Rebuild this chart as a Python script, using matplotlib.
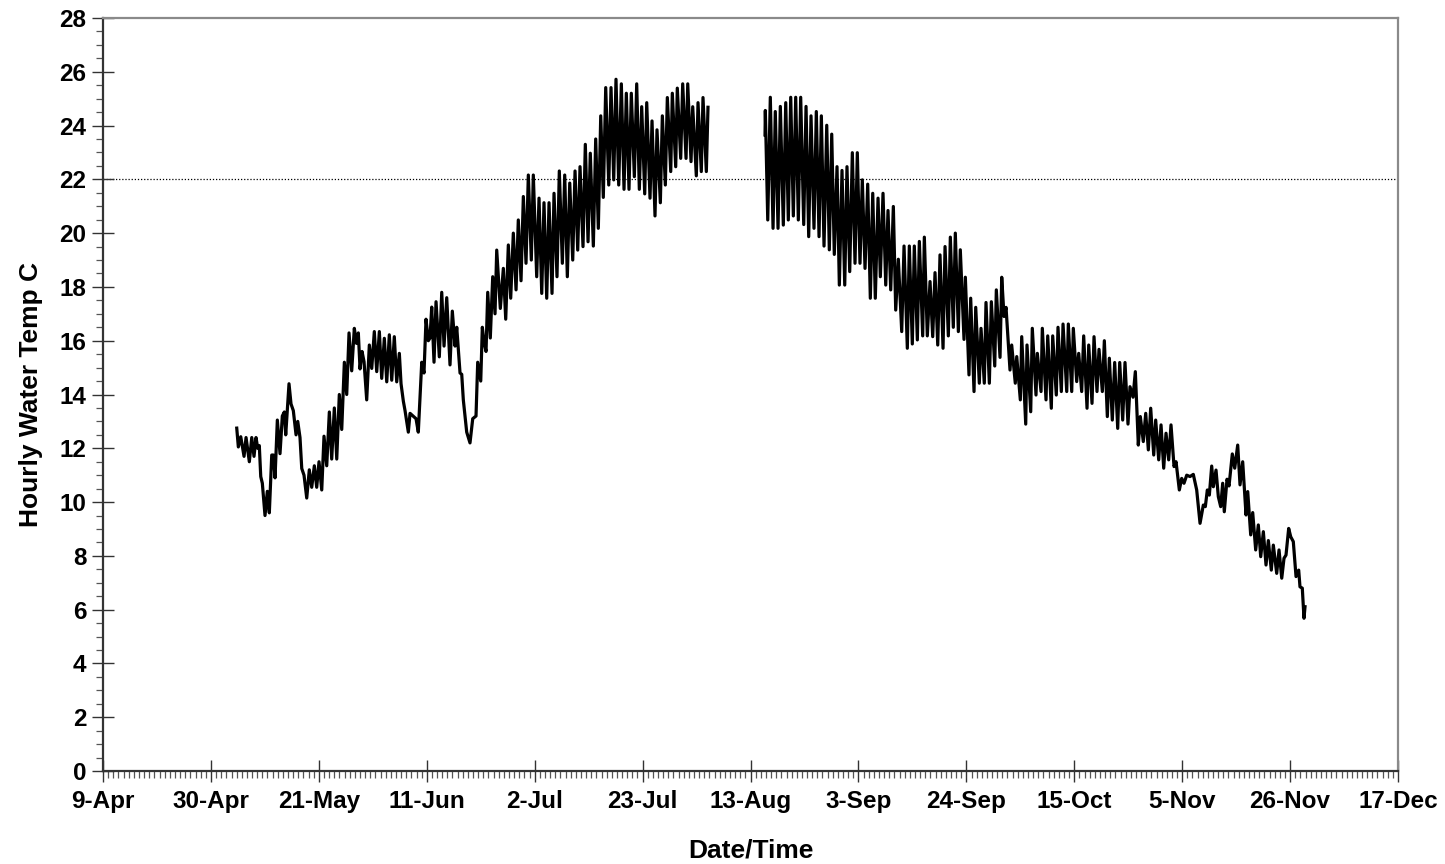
import numpy as np
import matplotlib
matplotlib.use("Agg")
import matplotlib.pyplot as plt
import matplotlib.dates as mdates
from matplotlib.ticker import FixedLocator, MultipleLocator, FuncFormatter

plt.rcParams["font.family"] = ["Liberation Sans", "DejaVu Sans"]
plt.rcParams["font.weight"] = "bold"

# ---- data: logger record, days after 9-Apr and water temperature (deg C) ----
season_start = "2003-04-09"
season_days = 252          # 9-Apr .. 17-Dec
tick_step_days = 21
threshold_temp = 22.0

spring_days = [
    26.02, 26.33, 26.80, 27.44, 27.83, 28.47, 28.94, 29.38, 29.77, 30.10,
    30.41, 30.69, 31.00, 31.52, 31.97, 32.36, 32.83, 33.14, 33.47, 33.92,
    34.44, 34.89, 35.28, 35.55, 36.19, 36.58, 37.03, 37.56, 37.89, 38.33,
    38.67, 39.11, 39.64, 40.14, 40.61, 41.12, 41.58, 42.03, 42.56, 43.00,
    43.53, 44.04, 44.50, 45.01, 45.48, 45.98, 46.45, 46.96, 47.42, 47.87,
    48.39, 48.90, 49.33, 49.68, 50.01, 50.40, 50.79, 51.31, 51.82, 52.29,
    52.79, 53.26, 53.77, 54.23, 54.74, 55.21, 55.71, 56.18, 56.68, 57.15,
    57.66, 57.99, 58.44, 58.77, 59.41, 59.74, 60.32, 60.91, 61.35, 62.02,
    62.46, 62.85, 63.30, 63.63, 63.96, 64.41, 64.80, 65.44, 65.91, 66.36,
    66.88, 67.52, 67.97, 68.50, 68.83, 69.47, 69.80, 70.11, 70.77, 71.41,
    71.94, 72.58, 72.91, 73.50, 73.81, 74.14, 74.53, 74.86, 75.36, 75.83,
    76.28, 76.61, 77.31, 77.90, 78.36, 78.87, 79.33, 79.84, 80.37, 80.81,
    81.34, 81.79, 82.31, 82.76, 83.34, 83.73, 84.39, 84.84, 85.37, 85.81,
    86.34, 86.79, 87.37, 87.76, 88.34, 88.79, 89.38, 89.84, 90.35, 90.82,
    91.40, 91.85, 92.37, 92.82, 93.40, 93.85, 94.38, 94.82, 95.41, 95.87,
    96.38, 96.85, 97.35, 97.82, 98.41, 98.85, 99.38, 99.82, 100.35, 100.86,
    101.38, 101.83, 102.35, 102.80, 103.39, 103.85, 104.36, 104.82, 105.41, 105.80,
    106.44, 106.83, 107.41, 107.80, 108.45, 108.84, 109.42, 109.81, 110.47, 110.78,
    111.44, 111.75, 112.41, 112.80, 113.45, 113.78, 114.42, 114.75, 115.45, 115.78,
    116.42, 116.75, 117.40, 117.72,
]
spring_temp = [
    12.75, 12.05, 12.43, 11.70, 12.40, 11.50, 12.40, 11.70, 12.40, 12.00,
    12.10, 10.95, 10.70, 9.50, 10.40, 9.60, 11.75, 11.75, 10.90, 13.05,
    11.80, 13.20, 13.35, 12.50, 14.40, 13.65, 13.40, 12.50, 13.00, 12.40,
    11.25, 11.00, 10.15, 11.20, 10.55, 11.35, 10.55, 11.50, 10.45, 12.45,
    11.35, 13.35, 11.60, 13.50, 11.60, 14.00, 12.70, 15.20, 14.00, 16.29,
    14.88, 16.46, 15.90, 16.29, 14.95, 15.60, 15.22, 13.80, 15.84, 14.97,
    16.34, 14.85, 16.34, 14.60, 16.09, 14.47, 16.22, 14.53, 16.15, 14.47,
    15.53, 14.40, 13.75, 13.40, 12.60, 13.30, 13.20, 13.10, 12.60, 15.20,
    14.80, 16.80, 16.00, 16.10, 17.25, 15.20, 17.45, 15.40, 17.80, 15.80,
    17.60, 15.10, 17.10, 15.80, 16.50, 14.80, 14.75, 13.80, 12.60, 12.20,
    13.10, 13.20, 15.20, 14.50, 16.50, 15.95, 15.60, 17.80, 16.10, 18.38,
    17.00, 19.37, 17.20, 18.69, 16.80, 19.56, 17.58, 20.00, 17.89, 20.49,
    18.23, 21.36, 18.88, 22.16, 19.00, 22.16, 18.38, 21.30, 17.76, 21.13,
    17.58, 21.13, 17.76, 21.48, 18.38, 22.31, 18.88, 22.16, 18.38, 21.86,
    19.00, 22.31, 19.37, 22.47, 19.50, 23.30, 19.68, 22.97, 19.52, 23.50,
    20.18, 24.36, 21.33, 25.41, 21.79, 25.41, 21.98, 25.72, 21.79, 25.55,
    21.63, 25.20, 21.63, 25.20, 22.10, 25.55, 21.63, 24.70, 21.46, 24.85,
    21.30, 24.17, 20.64, 23.84, 21.13, 24.36, 21.79, 25.04, 22.29, 25.20,
    22.47, 25.39, 22.78, 25.55, 22.78, 25.55, 22.66, 24.70, 22.13, 24.85,
    22.29, 25.04, 22.29, 24.68,
]

autumn_days = [
    128.82, 128.88, 129.35, 129.85, 130.38, 130.82, 131.35, 131.80, 132.38, 132.85,
    133.35, 133.82, 134.33, 134.79, 135.30, 135.76, 136.35, 136.80, 137.32, 137.77,
    138.35, 138.80, 139.33, 139.78, 140.30, 140.83, 141.33, 141.80, 142.30, 142.83,
    143.28, 143.80, 144.33, 144.77, 145.30, 145.81, 146.33, 146.78, 147.30, 147.75,
    148.28, 148.80, 149.31, 149.78, 150.28, 150.81, 151.26, 151.78, 152.31, 152.75,
    153.28, 153.79, 154.25, 154.76, 155.42, 155.87, 156.51, 156.90, 157.48, 157.87,
    158.46, 158.85, 159.50, 159.82, 160.40, 160.93, 161.45, 161.90, 162.43, 162.87,
    163.46, 163.85, 164.49, 164.88, 165.46, 165.85, 166.44, 166.82, 167.54, 167.80,
    168.51, 168.84, 169.49, 169.82, 170.52, 170.85, 171.49, 171.82, 172.47, 172.86,
    173.52, 173.83, 174.55, 174.88, 175.33, 175.72, 176.49, 176.82, 177.52, 177.80,
    178.50, 178.77, 179.55, 179.80, 180.52, 180.83, 181.55, 181.81, 182.53, 182.78,
    183.50, 183.83, 184.53, 184.80, 185.50, 185.83, 186.48, 186.81, 187.53, 187.84,
    188.50, 188.81, 189.47, 189.86, 190.44, 190.83, 191.48, 191.81, 192.45, 192.84,
    193.42, 193.81, 194.46, 194.85, 195.43, 195.82, 196.40, 196.86, 197.45, 197.84,
    198.42, 198.87, 199.45, 199.84, 200.43, 200.88, 201.46, 201.85, 202.43, 202.90,
    203.41, 203.87, 204.46, 204.84, 205.43, 205.88, 206.40, 206.85, 207.37, 207.82,
    208.41, 208.80, 209.44, 209.90, 210.35, 210.88, 211.52, 212.16, 212.82, 213.47,
    214.11, 214.50, 214.89, 215.28, 215.74, 216.06, 216.58, 217.03, 217.49, 217.88,
    218.19, 218.72, 219.11, 219.75, 220.22, 220.80, 221.25, 221.77, 222.42, 222.75,
    223.33, 223.72, 224.30, 224.81, 225.28, 225.79, 226.31, 226.76, 227.34, 227.73,
    228.39, 228.84, 229.37, 229.81, 230.20, 230.72, 231.12, 231.62, 232.15, 232.67,
    232.92, 233.37, 233.70, 233.90,
]
autumn_temp = [
    23.65, 24.56, 20.49, 25.05, 20.18, 24.52, 20.18, 24.71, 20.30, 24.85,
    20.49, 25.05, 20.64, 25.05, 20.49, 25.05, 20.32, 24.71, 19.87, 24.36,
    20.18, 24.52, 19.87, 24.36, 19.52, 24.01, 19.38, 23.68, 19.21, 22.47,
    18.07, 22.33, 18.07, 22.47, 18.57, 22.99, 18.88, 22.99, 18.88, 21.98,
    18.69, 21.82, 17.58, 21.48, 17.58, 21.30, 18.38, 21.48, 18.07, 20.84,
    17.89, 20.99, 17.14, 19.03, 16.34, 19.52, 15.72, 19.52, 15.88, 19.52,
    16.03, 19.69, 16.18, 19.85, 16.18, 18.20, 16.15, 18.53, 15.84, 19.19,
    15.72, 19.50, 16.18, 19.85, 16.50, 20.00, 16.34, 19.38, 16.05, 18.36,
    14.73, 17.58, 14.11, 17.24, 14.42, 16.46, 14.42, 17.42, 14.42, 17.45,
    15.06, 17.89, 15.38, 18.36, 16.90, 17.24, 14.91, 15.84, 14.42, 15.41,
    13.80, 16.15, 12.90, 15.84, 13.36, 16.46, 13.98, 15.53, 14.11, 16.46,
    13.80, 16.18, 13.49, 16.18, 13.98, 16.50, 14.11, 16.62, 14.11, 16.62,
    14.11, 16.46, 14.48, 15.53, 14.11, 16.18, 13.49, 15.84, 13.67, 16.15,
    14.11, 15.68, 14.11, 16.00, 13.18, 15.35, 13.05, 15.19, 12.74, 15.19,
    13.05, 15.19, 12.90, 14.29, 13.90, 14.85, 12.12, 13.18, 12.25, 13.30,
    11.94, 13.49, 11.75, 13.05, 11.57, 12.87, 11.26, 12.56, 11.57, 12.87,
    11.32, 11.50, 10.45, 10.88, 10.70, 11.00, 10.95, 11.03, 10.45, 9.21,
    9.89, 9.83, 10.45, 10.26, 11.34, 10.57, 11.19, 10.20, 9.83, 10.70,
    9.64, 10.85, 10.60, 11.79, 11.26, 12.12, 10.64, 11.50, 9.52, 10.39,
    8.78, 9.61, 8.22, 9.15, 7.97, 8.90, 7.66, 8.57, 7.47, 8.40,
    7.35, 8.22, 7.17, 7.91, 8.03, 9.02, 8.71, 8.53, 7.23, 7.47,
    6.85, 6.80, 5.68, 6.11,
]

y_max = 28
y_major = 2
y_minor = 0.5


def to_dates(days):
    base = np.datetime64(season_start + "T00:00:00")
    offsets = (np.asarray(days) * 86400).round().astype("timedelta64[s]")
    return base + offsets


fig = plt.figure(figsize=(14.45, 8.64), dpi=100)
ax = fig.add_axes([0.0713, 0.1076, 0.8962, 0.8716])

for days, temp in ((spring_days, spring_temp), (autumn_days, autumn_temp)):
    ax.plot(to_dates(days), temp, color="black", lw=2.3, solid_joinstyle="round")

x0 = np.datetime64(season_start)
x1 = x0 + np.timedelta64(season_days, "D")
ax.axhline(threshold_temp, color="black", lw=0.9, ls=(0, (1, 1.5)), zorder=1)

ax.set_xlim(x0, x1)
ax.set_ylim(0, y_max)

major_dates = [x0 + np.timedelta64(k, "D") for k in range(0, season_days + 1, tick_step_days)]
ax.xaxis.set_major_locator(FixedLocator(mdates.date2num(major_dates)))
ax.xaxis.set_minor_locator(mdates.DayLocator())


def day_month(val, pos=None):
    d = mdates.num2date(val)
    return f"{d.day}-{d.strftime('%b')}"


ax.xaxis.set_major_formatter(FuncFormatter(day_month))
ax.yaxis.set_major_locator(MultipleLocator(y_major))
ax.yaxis.set_minor_locator(MultipleLocator(y_minor))

ax.tick_params(axis="both", which="major", direction="inout", length=16, width=1.0,
               color="#333333", labelsize=17.5)
ax.tick_params(axis="x", which="major", pad=6)
ax.tick_params(axis="y", which="major", pad=4)
ax.tick_params(axis="both", which="minor", direction="out", length=5, width=0.9,
               color="#555555")

for lab in ax.get_xticklabels() + ax.get_yticklabels():
    lab.set_fontweight("bold")

for side in ("left", "bottom"):
    ax.spines[side].set_color("#333333")
    ax.spines[side].set_linewidth(1.6)
for side in ("top", "right"):
    ax.spines[side].set_color("#8a8a8a")
    ax.spines[side].set_linewidth(1.6)

ax.set_xlabel("Date/Time", fontsize=19, fontweight="bold", labelpad=18)
ax.set_ylabel("Hourly Water Temp C", fontsize=19, fontweight="bold", labelpad=12)

fig.savefig("out.png", dpi=100, facecolor="white")
